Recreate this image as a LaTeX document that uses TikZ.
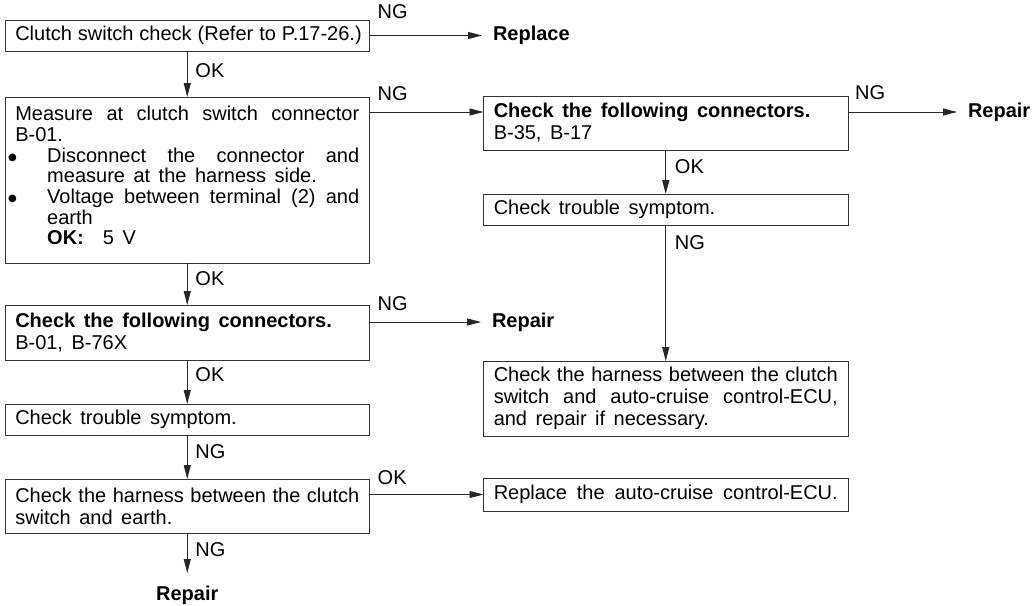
\documentclass[tikz,border=0pt]{standalone}
\usepackage{fontspec}
\setmainfont{Liberation Sans}
\newfontfamily\symfont{DejaVu Sans}
\usetikzlibrary{arrows.meta,calc}

% width of the text column inside every box
\newlength\boxtw
\setlength\boxtw{344pt}
% wide, stretchable space between words
\newcommand\wordgap{\frenchspacing\spaceskip=8.5pt plus 6pt minus 2.5pt\xspaceskip=8.5pt plus 6pt minus 2.5pt\relax}
% text face of the flow chart
\newcommand\chartfont[1]{\fontsize{20}{#1}\selectfont\parindent=0pt\wordgap}
% a line spread to the full column width
\newcommand\fullline[1]{\makebox[\boxtw][s]{\wordgap#1}}
% a small round bullet, centred on the x-height
\newcommand\dotmark{\raisebox{1.5pt}{\symfont\fontsize{10}{10}\selectfont ●}}
% a bulleted line, its text spread to the column width
\newcommand\bulletline[1]{\hspace*{-7pt}\makebox[39pt][l]{\dotmark}\makebox[\dimexpr\boxtw-32pt\relax][s]{\wordgap#1}}
% a continuation line under a bullet
\newcommand\hangline[1]{\hspace*{32pt}#1}

\tikzset{
  box/.style={draw=black!80, line width=0.9pt, rectangle, anchor=north west,
    minimum width=364.5pt, text width=\boxtw, inner xsep=10pt, inner ysep=0pt,
    outer sep=0pt, font=\chartfont{22}, execute at begin node=\wordgap},
  conn/.style={draw=black!85, line width=0.9pt, -{Triangle[length=14pt,width=7pt]}},
  term/.style={font=\chartfont{22}\bfseries, inner xsep=11pt, inner ysep=0pt, outer sep=0pt},
  lbl/.style={font=\chartfont{22}, inner sep=0pt, anchor=west},
}

\begin{document}
\begin{tikzpicture}[x=1pt, y=-1pt]
\fill[white] (0,0) rectangle (1032,605);
\useasboundingbox (0,0) rectangle (1032,605);

% left column
\node[box, minimum height=31pt] (b1) at (5,20)
  {\fullline{Clutch switch check (Refer to P.17-26.)}};
\node[box, minimum height=166pt, font=\chartfont{20.7}] (b2) at (5,97)
  {\fullline{Measure at clutch switch connector}\\
   B-01.\\
   \bulletline{Disconnect the connector and}\\
   \hangline{measure at the harness side.}\\
   \bulletline{Voltage between terminal (2) and}\\
   \hangline{earth}\\
   \hangline{\textbf{OK:}\hspace{19pt}5 V}\rule[-9pt]{0pt}{9pt}};
\node[box, minimum height=55pt] (b6) at (5,305)
  {\textbf{Check the following connectors.}\\B-01, B-76X};
\node[box, minimum height=31pt] (b7) at (5,404)
  {Check trouble symptom.};
\node[box, minimum height=54pt] (b8) at (5,479)
  {\fullline{Check the harness between the clutch}\\switch and earth.};

% right column
\node[box, minimum height=54pt] (r1) at (483.5,96)
  {\textbf{Check the following connectors.}\\B-35, B-17};
\node[box, minimum height=31pt] (r2) at (483.5,194)
  {Check trouble symptom.};
\node[box, minimum height=75pt] (r3) at (483.5,361)
  {\fullline{Check the harness between the clutch}\\
   \fullline{switch and auto-cruise control-ECU,}\\
   and repair if necessary.};
\node[box, minimum height=33pt] (r4) at (483.5,478)
  {\fullline{Replace the auto-cruise control-ECU.}};

% end results
\node[term, anchor=west] (rep1) at (482,35.5) {Replace};
\node[term, anchor=west] (rep2) at (957,112) {Repair};
\node[term, anchor=west] (rep3) at (481,322) {Repair};
\node[term, anchor=base, inner ysep=12.5pt] (rep4) at (187.25,600) {Repair};

% horizontal connectors
\path ($(r1.north west)+(0,16)$) coordinate (r1in);
\draw[conn] (b1.east) -- (rep1.west);
\draw[conn] (r1in -| b2.east) -- (r1in);
\draw[conn] (rep2.west -| r1.east) -- (rep2.west);
\draw[conn] (rep3.west -| b6.east) -- (rep3.west);
\draw[conn] (r4.west -| b8.east) -- (r4.west);

% vertical connectors
\draw[conn] (b1.south) -- (b2.north);
\draw[conn] (b2.south) -- (b6.north);
\draw[conn] (b6.south) -- (b7.north);
\draw[conn] (b7.south) -- (b8.north);
\draw[conn] (b8.south) -- (rep4.north);
\draw[conn] (r1.south) -- (r2.north);
\draw[conn] (r2.south) -- (r3.north);

% branch labels
\node[lbl] (ng1) at ($(b1.north east)+(8,-8.5)$) {NG};
\node[lbl] (ng2) at ($(b2.north east)+(8,-3)$) {NG};
\node[lbl] (ng3) at ($(r1.north east)+(7,-3.5)$) {NG};
\node[lbl] (ng4) at ($(b6.north east)+(8,-1)$) {NG};
\node[lbl] (ok5) at ($(b8.north east)+(8,-1.5)$) {OK};
\node[lbl] (ok1) at ($(b1.south)+(8,20)$) {OK};
\node[lbl] (ok2) at ($(b2.south)+(8,16)$) {OK};
\node[lbl] (ok3) at ($(b6.south)+(8,15)$) {OK};
\node[lbl] (ng5) at ($(b7.south)+(8,16.5)$) {NG};
\node[lbl] (ng6) at ($(b8.south)+(8,16.5)$) {NG};
\node[lbl] (ok4) at ($(r1.south)+(9,16.5)$) {OK};
\node[lbl] (ng7) at ($(r2.south)+(9,17.5)$) {NG};
\end{tikzpicture}
\end{document}
